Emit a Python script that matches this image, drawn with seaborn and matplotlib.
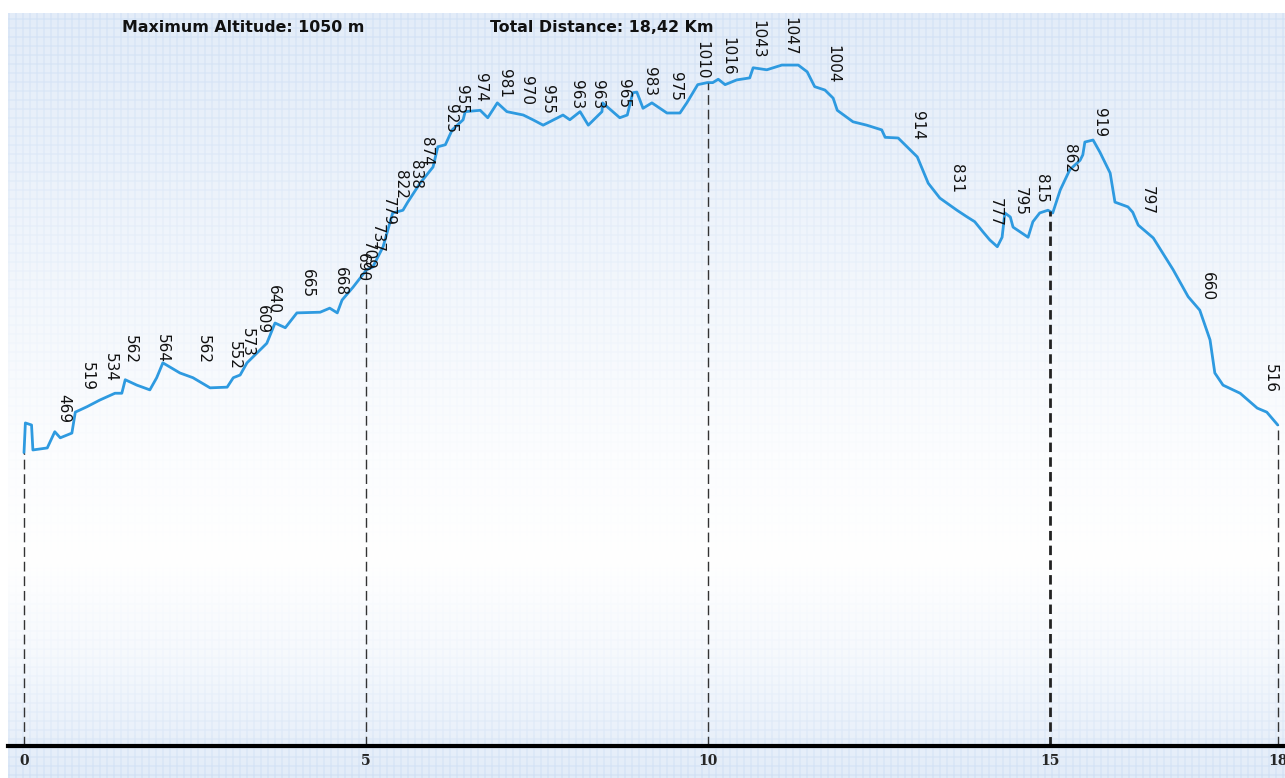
import numpy as np
import pandas as pd
import matplotlib
matplotlib.use("Agg")
import matplotlib.pyplot as plt
import seaborn as sns

# ---------------- data ----------------
distance_km = [0.00, 0.02, 0.11, 0.13, 0.34, 0.45, 0.53, 0.70, 0.75, 0.92,
               1.11, 1.33, 1.43, 1.48, 1.65, 1.84, 1.94, 2.03, 2.28, 2.47,
               2.72, 2.97, 3.06, 3.16, 3.26, 3.41, 3.55, 3.67, 3.82, 3.99,
               4.33, 4.47, 4.58, 4.65, 4.81, 5.01, 5.10, 5.25, 5.39, 5.54,
               5.61, 5.79, 5.98, 6.05, 6.16, 6.26, 6.42, 6.45, 6.67, 6.78,
               6.92, 7.06, 7.30, 7.44, 7.59, 7.88, 7.98, 8.13, 8.25, 8.45,
               8.46, 8.71, 8.82, 8.90, 8.96, 9.05, 9.18, 9.40, 9.59, 9.69,
               9.85, 9.99, 10.07, 10.15, 10.25, 10.42, 10.61, 10.66, 10.86, 11.08,
               11.32, 11.45, 11.56, 11.71, 11.83, 11.89, 12.12, 12.32, 12.54, 12.59,
               12.78, 13.06, 13.22, 13.39, 13.64, 13.79, 13.90, 14.02, 14.12, 14.23,
               14.30, 14.34, 14.42, 14.46, 14.68, 14.75, 14.85, 14.97, 15.04, 15.15,
               15.29, 15.44, 15.48, 15.51, 15.63, 15.73, 15.88, 15.95, 16.14, 16.21,
               16.29, 16.51, 16.80, 17.02, 17.19, 17.34, 17.41, 17.53, 17.78, 18.03,
               18.17, 18.33]
altitude_m = [475, 519, 516, 479, 482, 506, 497, 504, 535, 543,
              553, 563, 563, 583, 575, 568, 586, 608, 593, 586,
              571, 572, 586, 590, 608, 623, 637, 667, 660, 682,
              683, 689, 682, 701, 720, 746, 750, 780, 830, 834,
              846, 874, 898, 928, 931, 953, 968, 980, 982, 971,
              993, 980, 975, 968, 960, 975, 968, 980, 960, 980,
              993, 971, 975, 1008, 1009, 985, 993, 978, 978, 993,
              1020, 1023, 1023, 1028, 1020, 1027, 1030, 1045, 1042, 1049,
              1049, 1039, 1017, 1012, 1000, 982, 965, 960, 953, 942,
              941, 913, 874, 852, 834, 824, 817, 802, 790, 780,
              794, 830, 824, 809, 794, 817, 830, 834, 830, 864,
              894, 908, 916, 935, 938, 920, 889, 846, 839, 831,
              812, 793, 746, 706, 686, 642, 593, 575, 563, 541,
              535, 516]

label_km = [0.58, 0.92, 1.26, 1.55, 2.03, 2.62, 3.08, 3.27, 3.48, 3.64,
            4.14, 4.62, 4.94, 5.03, 5.16, 5.32, 5.50, 5.72, 5.89, 6.23,
            6.40, 6.67, 7.03, 7.35, 7.66, 8.08, 8.39, 8.76, 9.15, 9.52,
            9.91, 10.29, 10.73, 11.20, 11.83, 13.06, 13.64, 14.20, 14.56, 14.88,
            15.29, 15.73, 16.42, 17.30, 18.22]
label_alt = [469, 519, 534, 562, 564, 562, 552, 573, 609, 640,
             665, 668, 690, 709, 737, 779, 822, 838, 874, 925,
             955, 974, 981, 970, 955, 963, 963, 965, 983, 975,
             1010, 1016, 1043, 1047, 1004, 914, 831, 777, 795, 815,
             862, 919, 797, 660, 516]

marker_km = [0, 5, 10, 15, 18.33]
tick_labels = ["0", "5", "10", "15", "18"]

max_altitude_text = "Maximum Altitude: 1050 m"
total_distance_text = "Total Distance: 18,42 Km"

# ---------------- figure ----------------
sns.set_style("white")
plt.rcParams['font.family'] = ['DejaVu Sans']

W, H = 1285, 778
fig = plt.figure(figsize=(W / 100, H / 100), dpi=100)
fig.patch.set_facecolor("white")

# background gradient with faint grid
bg = fig.add_axes([8 / W, 0, 1277 / W, 765 / H])
bg.axis("off")
rows = np.arange(765) + 13
cols = np.arange(1277)
blueness = np.interp(rows, [13, 150, 300, 450, 560, 660, 777],
                     [0.72, 0.55, 0.3, 0.08, 0.0, 0.25, 0.75])
vmask = ((cols % 7) < 2).astype(float)
hmask = ((rows % 9) < 2).astype(float)
mask = np.clip(vmask[None, :] + hmask[:, None], 0, 1.5)
base_blue = np.array([0.85, 0.90, 0.965])
strength = blueness[:, None] * (1 + 0.35 * mask) + 0.015 * mask
img = 1 - strength[:, :, None] * (1 - base_blue)[None, None, :]
bg.imshow(np.clip(img, 0, 1), aspect="auto", extent=[0, 1, 0, 1],
          interpolation="bilinear")
bg.set_xlim(0, 1)
bg.set_ylim(0, 1)

# main axes
ax = fig.add_axes([8 / W, 32 / H, 1277 / W, (746 - 13) / H])
ax.patch.set_alpha(0)
df = pd.DataFrame({"km": distance_km, "alt": altitude_m})
sns.lineplot(data=df, x="km", y="alt", ax=ax, color="#2e9ae0",
             linewidth=2.0, sort=False, estimator=None)
ylo, yhi = 40.6, 1126.1
ax.set_xlim(-0.234, 18.436)
ax.set_ylim(ylo, yhi)

tops = np.interp(marker_km, distance_km, altitude_m)
for m, t in zip(marker_km, tops):
    if m == 15:
        ax.vlines(m, ylo, t, colors="#222222", linewidth=2.0,
                  linestyles=(0, (3.4, 1.9)))
    else:
        ax.vlines(m, ylo, t, colors="#333333", linewidth=1.0,
                  linestyles=(0, (7, 3.5)))

for s in ["top", "left", "right"]:
    ax.spines[s].set_visible(False)
ax.spines["bottom"].set_linewidth(3)
ax.spines["bottom"].set_color("black")
ax.set_yticks([])
ax.set_xlabel("")
ax.set_ylabel("")
ax.set_xticks(marker_km)
ax.set_xticklabels(tick_labels, fontfamily="DejaVu Serif",
                   fontweight="bold", fontsize=10)
ax.tick_params(axis="x", length=0, pad=6)

# value labels
ax2 = ax.twinx()
ax2.set_ylim(-39.3, 1114.2)
ax2.axis("off")
for k, v in zip(label_km, label_alt):
    ax2.text(k, v, str(v), rotation=270, ha="center", va="bottom",
             fontsize=11, color="#111111")

fig.text(122 / W, 1 - 27 / H, max_altitude_text, fontsize=11.4,
         fontweight="bold", ha="left", va="center", color="#111111")
fig.text(490 / W, 1 - 27 / H, total_distance_text, fontsize=11.4,
         fontweight="bold", ha="left", va="center", color="#111111")

fig.savefig("out.png", dpi=100)
